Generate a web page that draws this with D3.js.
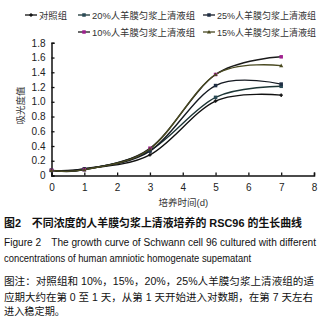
<!DOCTYPE html>
<html><head><meta charset="utf-8">
<script src="https://cdn.jsdelivr.net/npm/d3@7"></script>
<style>
html,body{margin:0;padding:0;background:#fff;}
svg{display:block;font-family:"Liberation Sans","Noto Sans CJK SC",sans-serif;}
</style></head>
<body>
<script>
// ---- data ----
const days = [0, 1, 3, 5, 7];
const seriesNames = ["对照组", "20%人羊膜匀浆上清液组", "25%人羊膜匀浆上清液组", "10%人羊膜匀浆上清液组", "15%人羊膜匀浆上清液组"];
const control = [0.07, 0.09, 0.28, 1.01, 1.09];
const pct20 = [0.07, 0.08, 0.34, 1.06, 1.21];
const pct25 = [0.07, 0.09, 0.33, 1.22, 1.24];
const pct10 = [0.07, 0.08, 0.37, 1.37, 1.61];
const pct15 = [0.07, 0.08, 0.36, 1.37, 1.49];
const xTicks = [0, 1, 2, 3, 4, 5, 6, 7, 8];
const yTicks = [0, 0.2, 0.4, 0.6, 0.8, 1.0, 1.2, 1.4, 1.6, 1.8];
const xTitle = "培养时间(d)";
const yTitle = "吸光度值";
const captionLines = [
  "图2　不同浓度的人羊膜匀浆上清液培养的 RSC96 的生长曲线",
  "Figure 2　The growth curve of Schwann cell 96 cultured with different",
  "concentrations of human amniotic homogenate supematant",
  "图注：对照组和 10%，15%，20%，25%人羊膜匀浆上清液组的适",
  "应期大约在第 0 至 1 天，从第 1 天开始进入对数期，在第 7 天左右",
  "进入稳定期。"
];

const series = [
  {name: seriesNames[0], values: control, line: "#111", fill: "#111", shape: "cross"},
  {name: seriesNames[1], values: pct20, line: "#1d3535", fill: "#2a4a55", shape: "square"},
  {name: seriesNames[2], values: pct25, line: "#151a22", fill: "#1f2e44", shape: "square"},
  {name: seriesNames[3], values: pct10, line: "#1a1a1a", fill: "#a0208f", shape: "square"},
  {name: seriesNames[4], values: pct15, line: "#4a4a22", fill: "#4a4a20", shape: "triangle"}
];

const W = 323, H = 317;
const svg = d3.select("body").append("svg").attr("width", W).attr("height", H);

const x = d3.scaleLinear().domain([0, 8]).range([51.5, 314]);
const y = d3.scaleLinear().domain([0, 1.8]).range([175.5, 42.8]);

// axes
const xAxis = d3.axisBottom(x).tickValues(xTicks).tickSize(-3).tickPadding(8).tickFormat(d3.format("d"));
const gx = svg.append("g").attr("transform", `translate(0,${y(0)})`).call(xAxis);
const yAxis = d3.axisLeft(y).tickValues(yTicks).tickSize(-3).tickPadding(6)
  .tickFormat(d => d === 0 ? "0" : d3.format(".1f")(d));
const gy = svg.append("g").attr("transform", `translate(${x(0)},0)`).call(yAxis);
[gx, gy].forEach(g => {
  g.select(".domain").attr("stroke", "#111").attr("stroke-width", 1.5);
  g.selectAll(".tick line").attr("stroke", "#111").attr("stroke-width", 1.3);
  g.selectAll(".tick text").attr("fill", "#222").attr("font-size", 10)
    .attr("font-family", "Liberation Sans, Arial, sans-serif");
});

// axis titles
svg.append("text").attr("x", x(4.02)).attr("y", 206).attr("text-anchor", "middle")
  .attr("font-size", 9.5).attr("fill", "#333").text(xTitle);
svg.append("text").attr("transform", `translate(24,${y(0.95)}) rotate(-90)`).attr("text-anchor", "middle")
  .attr("font-size", 9.5).attr("fill", "#333").text(yTitle);

// lines
const line = d3.line().x((d, i) => x(days[i])).y(d => y(d)).curve(d3.curveCatmullRom.alpha(0));
function marker(g, shape, cx, cy, color, s) {
  if (shape === "square") {
    g.append("rect").attr("x", cx - s / 2).attr("y", cy - s / 2).attr("width", s).attr("height", s).attr("fill", color);
  } else if (shape === "triangle") {
    g.append("path").attr("d", `M${cx},${cy - s * 0.6}L${cx + s * 0.6},${cy + s * 0.45}L${cx - s * 0.6},${cy + s * 0.45}Z`).attr("fill", color);
  } else {
    g.append("path").attr("d", `M${cx - s / 2},${cy}H${cx + s / 2}M${cx},${cy - s / 2}V${cy + s / 2}`)
      .attr("stroke", color).attr("stroke-width", 1.4);
  }
}
const plot = svg.append("g");
series.forEach(s => {
  plot.append("path").datum(s.values).attr("d", line).attr("fill", "none")
    .attr("stroke", s.line).attr("stroke-width", 1.4);
});
series.forEach(s => {
  const g = plot.append("g");
  s.values.forEach((v, i) => marker(g, s.shape, x(days[i]), y(v), s.fill, 3.5));
});

// legend
const legendPos = [[25, 15], [78, 15], [203, 15], [78, 32], [203, 32]];
const legendW = [28, 103, 99, 103, 99];
series.forEach((s, i) => {
  const [lx, ly] = legendPos[i];
  const g = svg.append("g");
  g.append("line").attr("x1", lx).attr("x2", lx + 12).attr("y1", ly).attr("y2", ly)
    .attr("stroke", s.line).attr("stroke-width", 1.3);
  marker(g, s.shape, lx + 6, ly, s.fill, 3.5);
  g.append("text").attr("x", lx + 14).attr("y", ly + 3.5).attr("font-size", 9.5).attr("fill", "#333")
    .attr("textLength", legendW[i]).attr("lengthAdjust", "spacingAndGlyphs").text(s.name);
});

// caption
const capY = [227, 246, 262, 285, 301, 315];
const capW = [298, 312, 247, 310, 309, 61];
const capSize = [11, 10, 10, 10.5, 10.5, 10.5];
captionLines.forEach((t, i) => {
  svg.append("text").attr("x", 4).attr("y", capY[i]).attr("font-size", capSize[i])
    .attr("fill", "#111").attr("font-weight", i === 0 ? "bold" : "normal")
    .attr("textLength", capW[i]).attr("lengthAdjust", "spacingAndGlyphs").text(t);
});
</script>
</body></html>
